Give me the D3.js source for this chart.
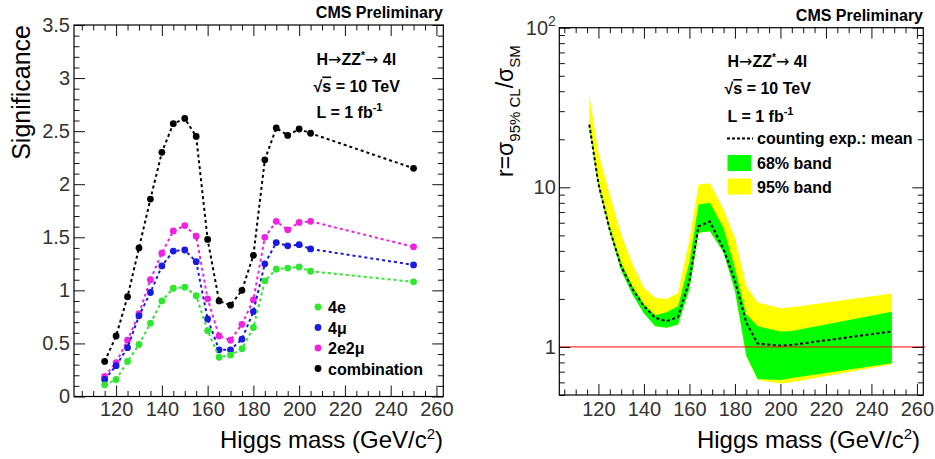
<!DOCTYPE html>
<html><head><meta charset="utf-8">
<script src="https://cdn.jsdelivr.net/npm/d3@7"></script>
<style>
body{margin:0;background:#fff}
svg{display:block}
</style></head><body>
<svg id="c" width="935" height="459"></svg>
<script>
// ---------- Left panel data: significance vs Higgs mass ----------
const massL = [115,120,125,130,135,140,145,150,155,160,165,170,175,180,185,190,195,200,205,250];
const sig4e   = [0.11,0.16,0.33,0.49,0.69,0.90,1.02,1.03,0.95,0.62,0.37,0.39,0.45,0.65,1.09,1.20,1.21,1.22,1.18,1.08];
const sig4mu  = [0.16,0.29,0.46,0.76,0.98,1.23,1.37,1.38,1.27,0.73,0.44,0.44,0.54,0.80,1.25,1.45,1.42,1.43,1.39,1.24];
const sig2e2mu= [0.19,0.32,0.53,0.78,1.10,1.35,1.56,1.61,1.51,0.92,0.57,0.53,0.68,0.91,1.50,1.65,1.57,1.64,1.65,1.41];
const sigComb = [0.33,0.57,0.94,1.40,1.86,2.30,2.57,2.62,2.45,1.48,0.90,0.86,1.00,1.33,2.23,2.53,2.46,2.52,2.48,2.15];
const seriesNamesL = ["4e","4\u03bc","2e2\u03bc","combination"];
const xTicksL = [120,140,160,180,200,220,240,260];
const yTicksL = [0,0.5,1,1.5,2,2.5,3,3.5];

// ---------- Right panel data: expected limit r = sigma95/sigmaSM ----------
const massR = [116,120,125,130,135,140,145,150,155,160,164,169,175,180,185,190,200,205,249];
const rMean = [24.7,10.5,5.4,3.2,2.3,1.8,1.52,1.45,1.54,2.6,5.7,6.1,4.1,2.6,1.42,1.05,1.02,1.03,1.25];
const r68lo = [24.0,10.2,5.25,3.0,2.12,1.62,1.35,1.32,1.38,2.3,5.2,5.3,3.9,2.25,0.88,0.63,0.62,0.64,0.79];
const r68hi = [25.4,10.8,5.6,3.35,2.4,1.85,1.58,1.65,1.8,3.4,7.8,8.0,5.57,3.1,1.6,1.35,1.25,1.26,1.66];
const r95lo = [24.0,10.2,5.25,3.0,2.12,1.62,1.35,1.32,1.38,2.3,5.2,5.3,3.9,2.25,0.87,0.62,0.59,0.60,0.78];
const r95hi = [38,16.4,9.0,5.06,3.28,2.34,2.03,2.0,2.18,4.7,10.4,10.6,7.25,4.8,2.4,1.9,1.75,1.77,2.16];
const xTicksR = [120,140,160,180,200,220,240,260];
const yTicksR = [1,10,100];
const legendR = ["counting exp.: mean","68% band","95% band"];

const FONT = '"Liberation Sans", Arial, Helvetica, sans-serif';
const svg = d3.select("#c");
svg.append("rect").attr("width",935).attr("height",459).attr("fill","#fff");

function drawAxes(x, y, xMajor, yMajor, xMinor, yMinor, yFmt, xPad, yPad) {
  const [x0,x1] = x.range();
  const [yb,yt] = y.range();
  const g = svg.append("g");
  const add = (tr, axis) => g.append("g").attr("transform", tr).call(axis);
  const bm = add(`translate(0,${yb})`, d3.axisBottom(x).tickValues(xMajor).tickSize(-11).tickPadding(xPad).tickFormat(d=>d));
  add(`translate(0,${yb})`, d3.axisBottom(x).tickValues(xMinor).tickSize(-5.5).tickFormat(""));
  add(`translate(0,${yt})`, d3.axisTop(x).tickValues(xMajor).tickSize(-11).tickFormat(""));
  add(`translate(0,${yt})`, d3.axisTop(x).tickValues(xMinor).tickSize(-5.5).tickFormat(""));
  const lm = add(`translate(${x0},0)`, d3.axisLeft(y).tickValues(yMajor).tickSize(-11).tickPadding(yPad).tickFormat(yFmt));
  add(`translate(${x0},0)`, d3.axisLeft(y).tickValues(yMinor).tickSize(-5.5).tickFormat(""));
  add(`translate(${x1},0)`, d3.axisRight(y).tickValues(yMajor).tickSize(-11).tickFormat(""));
  add(`translate(${x1},0)`, d3.axisRight(y).tickValues(yMinor).tickSize(-5.5).tickFormat(""));
  g.selectAll(".domain").remove();
  g.selectAll("g").attr("font-family", FONT).attr("font-size", 20).attr("color", "#000");
  g.selectAll(".tick line").attr("stroke", "#111").attr("stroke-width", 1);
  g.selectAll(".tick text").attr("fill", "#333");
  svg.append("rect").attr("x",x0).attr("y",yt).attr("width",x1-x0).attr("height",yb-yt)
     .attr("fill","none").attr("stroke","#000").attr("stroke-width",1.2);
  return {bm, lm};
}

function txt(x, y, size, weight, anchor) {
  return svg.append("text").attr("x",x).attr("y",y).attr("font-family",FONT)
    .attr("font-size",size).attr("font-weight",weight||"normal").attr("text-anchor",anchor||"start").attr("fill","#000");
}

function procLabel(x, y0, dy) {
  const t1 = txt(x, y0, 16, "bold");
  t1.append("tspan").text("H");
  t1.append("tspan").attr("font-family",'"DejaVu Sans", sans-serif').attr("font-weight","normal").text("\u2192");
  t1.append("tspan").text("ZZ");
  t1.append("tspan").attr("dy",-6).attr("font-size",10).text("*");
  t1.append("tspan").attr("dy",6).attr("font-family",'"DejaVu Sans", sans-serif').attr("font-weight","normal").text("\u2192");
  t1.append("tspan").text(" 4l");
  const t2 = txt(x-3, y0+dy, 16, "bold");
  t2.append("tspan").text("\u221a");
  t2.append("tspan").style("text-decoration","overline").text("s");
  t2.append("tspan").text(" = 10 TeV");
  const t3 = txt(x, y0+2*dy, 16, "bold");
  t3.append("tspan").text("L = 1 fb");
  t3.append("tspan").attr("dy",-7).attr("font-size",11).text("-1");
}

// ================= LEFT PANEL =================
const xL = d3.scaleLinear().domain([101.6,263]).range([74,443.3]);
const yL = d3.scaleLinear().domain([0,3.5]).range([396.5,25]);

const seriesL = [
  {name: seriesNamesL[2], vals: sig2e2mu, color: "#ee22e0"},
  {name: seriesNamesL[1], vals: sig4mu,   color: "#1a1ae0"},
  {name: seriesNamesL[0], vals: sig4e,    color: "#2ee82e"},
  {name: seriesNamesL[3], vals: sigComb,  color: "#000000"}
];
const lineL = d3.line().x(d=>xL(d[0])).y(d=>yL(d[1]));
seriesL.forEach(s => {
  const pts = massL.map((m,i)=>[m, s.vals[i]]);
  svg.append("path").attr("d", lineL(pts)).attr("fill","none").attr("stroke", s.color)
     .attr("stroke-width", 2).attr("stroke-dasharray","3,3");
  svg.append("g").selectAll("circle").data(pts).join("circle")
     .attr("cx", d=>xL(d[0])).attr("cy", d=>yL(d[1])).attr("r", 3.4).attr("fill", s.color);
});

drawAxes(xL, yL, xTicksL, yTicksL, xL.ticks(32).filter(v=>v%20!==0 && v>xL.domain()[0]),
         d3.range(0,35).map(i=>i/10).filter(v=>Math.abs(v*2-Math.round(v*2))>1e-6), d=>String(d), 5, 4);

// legend left
const legL = [
  {name: seriesNamesL[0], color: "#2ee82e"},
  {name: seriesNamesL[1], color: "#1a1ae0"},
  {name: seriesNamesL[2], color: "#ee22e0"},
  {name: seriesNamesL[3], color: "#000"}
];
legL.forEach((l,i) => {
  const yy = 307 + i*20.5;
  svg.append("circle").attr("cx",318).attr("cy",yy).attr("r",3.4).attr("fill",l.color);
  txt(328, yy+6, 16, "bold").text(l.name);
});

txt(443, 18, 16, "bold", "end").text("CMS Preliminary");
procLabel(316.5, 65, 26.5);
txt(443, 448, 24, "normal", "end").call(t => {
  t.append("tspan").text("Higgs mass (GeV/c");
  t.append("tspan").attr("dy",-9).attr("font-size",15).text("2");
  t.append("tspan").attr("dy",9).text(")");
});
txt(0,0,25,"normal","end").attr("transform","translate(30,25) rotate(-90)").text("Significance");

// ================= RIGHT PANEL =================
const xR = d3.scaleLinear().domain([102.8,262.8]).range([559.3,923.3]);
const yR = d3.scaleLog().domain([0.5,100]).range([395,27.7]);

const band = (lo, hi) => d3.area().x((d,i)=>xR(massR[i])).y0((d,i)=>yR(lo[i])).y1((d,i)=>yR(hi[i]));
svg.append("path").attr("d", band(r95lo, r95hi)(massR)).attr("fill", "#ffff00");
svg.append("path").attr("d", band(r68lo, r68hi)(massR)).attr("fill", "#00ff00");
svg.append("path").attr("d", d3.line().x((d,i)=>xR(massR[i])).y((d,i)=>yR(rMean[i]))(massR))
   .attr("fill","none").attr("stroke","#000").attr("stroke-width",2).attr("stroke-dasharray","3,2.5");
svg.append("line").attr("x1", xR.range()[0]).attr("x2", xR.range()[1]+2)
   .attr("y1", yR(1)).attr("y2", yR(1)).attr("stroke", "#ff0000").attr("stroke-width", 1);

const axR = drawAxes(xR, yR, xTicksR, yTicksR, xR.ticks(32).filter(v=>v%20!==0 && v>xR.domain()[0]),
         yR.ticks().filter(v=>!yTicksR.includes(v)), d=>String(d), 6.5, 3.5);
axR.lm.selectAll(".tick text").filter(d=>d===100).text("10")
   .append("tspan").attr("dy",-9).attr("font-size",14).text("2");

// legend right
svg.append("line").attr("x1",727).attr("x2",753).attr("y1",138.5).attr("y2",138.5)
   .attr("stroke","#000").attr("stroke-width",2).attr("stroke-dasharray","3,2");
txt(757, 144, 16, "bold").text(legendR[0]);
svg.append("rect").attr("x",727.5).attr("y",155).attr("width",23.5).attr("height",16).attr("fill","#00ff00");
txt(757, 169, 16, "bold").text(legendR[1]);
svg.append("rect").attr("x",727.5).attr("y",178.5).attr("width",23.5).attr("height",16).attr("fill","#ffff00");
txt(757, 193, 16, "bold").text(legendR[2]);

txt(923, 21, 16, "bold", "end").text("CMS Preliminary");
procLabel(727.5, 66.5, 27.5);
txt(920, 448, 24, "normal", "end").call(t => {
  t.append("tspan").text("Higgs mass (GeV/c");
  t.append("tspan").attr("dy",-9).attr("font-size",15).text("2");
  t.append("tspan").attr("dy",9).text(")");
});
txt(0,0,23,"normal","start").attr("transform","translate(513,177) rotate(-90)").call(t => {
  t.append("tspan").text("r=\u03c3");
  t.append("tspan").attr("dy",7).attr("font-size",15).text("95% CL");
  t.append("tspan").attr("dy",-7).text("/\u03c3");
  t.append("tspan").attr("dy",7).attr("font-size",15).text("SM");
});
</script>
</body></html>
